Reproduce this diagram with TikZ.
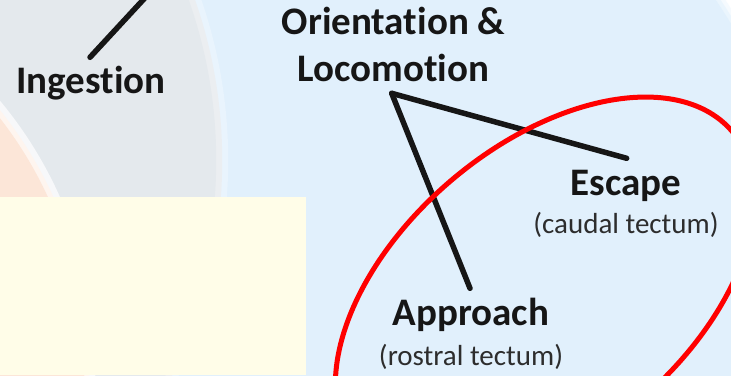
\documentclass[tikz,border=0pt]{standalone}
\usepackage{fontspec}
\setmainfont{Carlito}[Ligatures={NoCommon}]
\definecolor{bgblue}{RGB}{225,240,252}
\definecolor{bggray}{RGB}{228,233,237}
\definecolor{bgorange}{RGB}{252,230,216}
\definecolor{boxyellow}{RGB}{255,253,232}
\definecolor{inkblack}{RGB}{22,22,22}
\definecolor{inkgray}{RGB}{45,45,45}
\begin{document}
\begin{tikzpicture}[x=1pt,y=1pt,
  biglabel/.style={font=\fontsize{39}{47}\selectfont\bfseries, text=inkblack, inner sep=0pt, anchor=base},
  sublabel/.style={font=\fontsize{29}{34}\selectfont, text=inkgray, inner sep=0pt, anchor=base},
  link/.style={line width=5.5pt, draw=inkblack, line cap=round},
  ring/.style={line width=5pt, draw=red}]
\useasboundingbox (0,0) rectangle (731,-375);
\begin{scope}
  \clip (0,0) rectangle (731,-375);
  \fill[white] (0,0) rectangle (731,-375);
  \fill[bgblue!35!white] (252,-314) circle (568);
  \fill[bgblue!70!white] (252,-314) circle (564);
  \fill[bgblue] (252,-314) circle (560);
  % grey disc with a soft light rim
  \fill[bgblue!75!white] (-263.8,-160.4) circle (492);
  \fill[white!25!bggray] (-263.8,-160.4) circle (486);
  \fill[bggray] (-263.8,-160.4) circle (480);
  % orange disc with a white rim
  \fill[white!70!bggray] (-316.6,-364.4) circle (412);
  \fill[white!60!bgorange] (-316.6,-364.4) circle (406);
  \fill[bgorange] (-316.6,-364.4) circle (401);
  % yellow box
  \fill[boxyellow] (0,-197) rectangle (306,-375);
\end{scope}

% labels
\node[biglabel] (ing) at (91,-93) {Ingestion};
\node[biglabel] (orient) at (393.5,-34) {Orientation \&};
\node[biglabel] (loco) at (393.5,-81) {Locomotion};
\node[biglabel] (esc) at (626,-195) {Escape};
\node[sublabel] (escsub) at (626,-233) {(caudal tectum)};
\node[biglabel] (appr) at (471,-325) {Approach};
\node[sublabel] (apprsub) at (471,-365) {(rostral tectum)};

% connectors
\coordinate (apex) at (391.7,-93.3);
\coordinate (escend) at (626.7,-158.3);
\coordinate (apprend) at (470,-288.3);
\coordinate (ingend) at (90,-57.3);
\coordinate (ingtop) at (155,13);
\begin{scope}
  \clip (0,0) rectangle (731,-375);
  \draw[link] (ingend) -- (ingtop);
  \draw[link] (apex) -- (escend);
  \draw[link] (apex) -- (apprend);
  \draw[ring, rotate around={40.4:(545,-291)}] (545,-291) ellipse [x radius=246, y radius=145];
\end{scope}
\end{tikzpicture}
\end{document}
